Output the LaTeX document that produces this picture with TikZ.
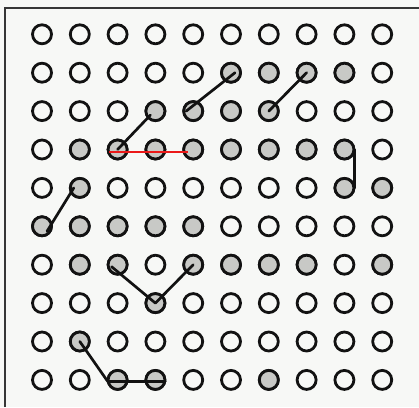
\documentclass[tikz,border=0pt]{standalone}
\definecolor{bgc}{RGB}{247,248,246}
\definecolor{dotfill}{RGB}{200,201,198}
\definecolor{ink}{RGB}{18,18,18}
\definecolor{redline}{RGB}{235,25,25}
\begin{document}
\begin{tikzpicture}[x=1pt,y=-1pt,
  dot/.style={circle,draw=ink,line width=2.8pt,minimum size=19pt,inner sep=0pt,fill=bgc},
  fdot/.style={dot,fill=dotfill},
  link/.style={draw=ink,line width=2.7pt,line cap=round,line join=round},
  redlink/.style={draw=redline,line width=2pt},
  frame/.style={draw=ink!85,line width=1.5pt}]
\fill[bgc] (0,0) rectangle (419,407);
\useasboundingbox (0,0) rectangle (419,407);
\draw[frame] (5,407) |- (419,8);
\foreach \r in {1,...,10}{
  \foreach \c in {1,...,10}{
    \node[dot] (r\r-\c) at ({42+(\c-1)*37.8},{34.3+(\r-1)*38.4}) {};
  }
}
\foreach \r/\c in {2/6,2/7,2/8,2/9,
                   3/4,3/5,3/6,3/7,
                   4/2,4/3,4/4,4/5,4/6,4/7,4/8,4/9,
                   5/2,5/9,5/10,
                   6/1,6/2,6/3,6/4,6/5,
                   7/2,7/3,7/5,7/6,7/7,7/8,7/10,
                   8/4,
                   9/2,
                   10/3,10/4,10/7}{
  \node[fdot] (f\r-\c) at (r\r-\c.center) {};
}
\draw[link] (r4-3.center) -- ([shift={(-5,4)}]r3-4.center);
\draw[link] ([shift={(-7,0)}]r3-5.center) -- ([shift={(4,0)}]r2-6.center);
\draw[link] (r3-7.center) -- (r2-8.center);
\draw[link] ([shift={(-1,0)}]r4-9.east) -- ([shift={(-1,0)}]r5-9.east);
\draw[link] ([shift={(5,5)}]r6-1.center) -- ([shift={(-6,0)}]r5-2.center);
\draw[link] ([shift={(-6,2)}]r7-3.center) -- (r8-4.center) -- (r7-5.center);
\draw[link] (r9-2.center) -- ([shift={(1,1.5)}]r10-3.west) -- ([shift={(-1,1.5)}]r10-4.east);
\draw[redlink] ([shift={(2,2)}]r4-3.west) -- ([shift={(-5,2)}]r4-5.center);
\end{tikzpicture}
\end{document}
